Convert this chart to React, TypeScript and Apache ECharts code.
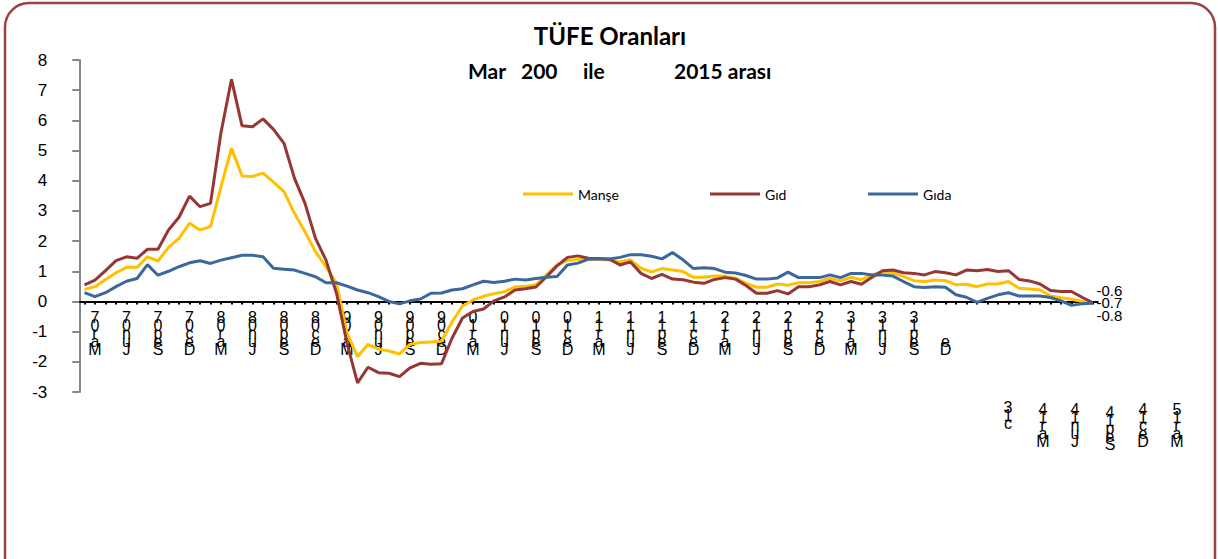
import React, { useEffect, useRef } from 'react';
import * as echarts from 'echarts';

// ---- categories (monthly, Feb 2007 .. Feb 2015) ----
const monthAbbr = ['Jan', 'Feb', 'Mar', 'Apr', 'May', 'Jun', 'Jul', 'Aug', 'Sep', 'Oct', 'Nov', 'Dec'];
const startYear = 2007;
const startMonthIndex = 1; // Feb
const pointCount = 97;
const categories: string[] = Array.from({ length: pointCount }, (_, i) => {
  const m = startMonthIndex + i;
  const y = startYear + Math.floor(m / 12);
  return monthAbbr[m % 12] + String(y % 100).padStart(2, '0');
});

// ---- series values ----
const manse = [
  0.40, 0.49, 0.73, 0.95, 1.13, 1.13, 1.48, 1.34, 1.79, 2.09,
  2.59, 2.37, 2.48, 3.80, 5.08, 4.16, 4.14, 4.25, 3.95, 3.64,
  2.92, 2.31, 1.65, 1.15, 0.60, -1.05, -1.83, -1.42, -1.58, -1.64,
  -1.74, -1.42, -1.36, -1.34, -1.32, -0.68, -0.15, 0.05, 0.17, 0.26,
  0.32, 0.48, 0.50, 0.55, 0.88, 1.21, 1.36, 1.39, 1.41, 1.40,
  1.37, 1.31, 1.38, 1.10, 0.98, 1.09, 1.04, 0.99, 0.80, 0.80,
  0.84, 0.84, 0.77, 0.60, 0.47, 0.47, 0.58, 0.54, 0.62, 0.62,
  0.66, 0.77, 0.68, 0.80, 0.72, 0.88, 0.99, 0.95, 0.82, 0.69,
  0.65, 0.71, 0.69, 0.55, 0.57, 0.49, 0.58, 0.58, 0.66, 0.44,
  0.41, 0.38, 0.18, 0.12, 0.07, 0.00, -0.04,
];

const gid = [
  0.55, 0.71, 1.02, 1.35, 1.48, 1.43, 1.73, 1.73, 2.37, 2.79,
  3.49, 3.14, 3.25, 5.60, 7.36, 5.82, 5.79, 6.05, 5.70, 5.24,
  4.08, 3.25, 2.09, 1.37, 0.27, -1.38, -2.70, -2.18, -2.36, -2.38,
  -2.49, -2.20, -2.05, -2.08, -2.06, -1.22, -0.55, -0.33, -0.25, 0.02,
  0.15, 0.38, 0.42, 0.48, 0.82, 1.18, 1.46, 1.51, 1.43, 1.42,
  1.40, 1.21, 1.31, 0.93, 0.76, 0.90, 0.74, 0.72, 0.64, 0.60,
  0.73, 0.79, 0.74, 0.53, 0.27, 0.27, 0.36, 0.25, 0.49, 0.49,
  0.55, 0.66, 0.55, 0.66, 0.57, 0.80, 1.02, 1.04, 0.95, 0.93,
  0.88, 0.99, 0.95, 0.88, 1.04, 1.02, 1.06, 0.99, 1.02, 0.73,
  0.68, 0.58, 0.36, 0.33, 0.33, 0.14, -0.04,
];

const gida = [
  0.29, 0.16, 0.29, 0.49, 0.67, 0.76, 1.22, 0.87, 1.00, 1.15,
  1.28, 1.35, 1.26, 1.37, 1.45, 1.53, 1.53, 1.48, 1.10, 1.07,
  1.04, 0.93, 0.82, 0.62, 0.62, 0.51, 0.38, 0.29, 0.16, 0.00,
  -0.08, 0.02, 0.08, 0.27, 0.28, 0.38, 0.42, 0.55, 0.67, 0.63,
  0.67, 0.74, 0.71, 0.76, 0.80, 0.83, 1.21, 1.27, 1.40, 1.41,
  1.41, 1.46, 1.55, 1.55, 1.50, 1.41, 1.62, 1.38, 1.09, 1.12,
  1.09, 0.97, 0.94, 0.86, 0.74, 0.74, 0.78, 0.97, 0.79, 0.79,
  0.79, 0.88, 0.79, 0.93, 0.93, 0.88, 0.88, 0.84, 0.66, 0.49,
  0.46, 0.49, 0.47, 0.22, 0.14, -0.03, 0.10, 0.22, 0.29, 0.18,
  0.18, 0.18, 0.13, 0.02, -0.13, -0.08, -0.06,
];

const seriesNames = ['Manşe', 'Gıd', 'Gıda'];
const seriesColors = ['#FFC000', '#953735', '#3A679C'];
const endLabels = ['-0.7', '-0.6', '-0.8'];

// ---- texts ----
const titleText = 'TÜFE Oranları';
const subtitleParts = ['Mar', '200', 'ile', '2015 arası'];
const strayLabels = ['3\n1\nc', '4\n1\nr\na\nM', '4\n1\nn\nu\nJ', '4\n1\np\ne\nS', '4\n1\nc\ne\nD', '5\n1\nr\na\nM'];

const labelFont = 'Liberation Sans, Arial, sans-serif';
const textFont = 'Lato, "Open Sans", sans-serif';

export default function App() {
  const ref = useRef<HTMLDivElement>(null);

  useEffect(() => {
    if (!ref.current) return;
    const chart = echarts.init(ref.current, null, { renderer: 'svg' });

    const lastLabelIdx = 82;
    const stackedLabel = (value: string, index: number) => {
      const chars = value.split('').reverse();
      if (index === lastLabelIdx) {
        return chars.map((c, k) => (k < 3 ? ' ' : c)).join('\n');
      }
      return chars.join('\n');
    };

    const datasets = [manse, gid, gida];
    const endOffsets = [[0, 0], [0, -12], [0, 12]];

    const subtitleX = [468, 521, 583, 674];
    const strayX = [1008, 1043, 1075, 1110, 1143, 1177];
    const strayY = [403, 405, 405, 408, 405, 405];

    const gridTop = 60;
    const gridHeight = 332;
    const yMin = -3;
    const yMax = 8;
    const zeroOffset = -(gridHeight * (0 - yMin)) / (yMax - yMin);

    const option: any = {
      animation: false,
      backgroundColor: '#ffffff',
      grid: { left: 79.25, top: gridTop, width: 1018.5, height: gridHeight, containLabel: false },
      legend: seriesNames.map((n, k) => ({
        data: [n],
        left: [523, 710, 868][k],
        top: 187,
        padding: 0,
        icon: 'rect',
        itemWidth: 50,
        itemHeight: 3,
        itemGap: 5,
        selectedMode: false,
        textStyle: { fontFamily: textFont, fontSize: 14, color: '#000' },
      })),
      xAxis: {
        type: 'category',
        data: categories,
        boundaryGap: true,
        offset: zeroOffset,
        axisLine: { onZero: false, lineStyle: { color: '#000', width: 2 } },
        axisTick: { show: true, alignWithLabel: true, interval: 0, length: 3, lineStyle: { color: '#000', width: 2 } },
        axisLabel: {
          interval: (index: number) => index % 3 === 1 && index <= lastLabelIdx,
          formatter: stackedLabel,
          fontFamily: labelFont,
          fontSize: 16,
          lineHeight: 8,
          color: '#000',
          margin: 12,
          showMinLabel: true,
          showMaxLabel: true,
        },
        splitLine: { show: false },
      },
      yAxis: {
        type: 'value',
        min: yMin,
        max: yMax,
        interval: 1,
        axisLine: { show: true, lineStyle: { color: '#868686', width: 2 } },
        axisTick: { show: true, length: 7, lineStyle: { color: '#868686', width: 2 } },
        splitLine: { show: false },
        axisLabel: { fontFamily: labelFont, fontSize: 17, color: '#000', margin: 32 },
      },
      series: datasets.map((d, k) => ({
        name: seriesNames[k],
        type: 'line',
        data: d,
        symbol: 'none',
        color: seriesColors[k],
        lineStyle: { width: 3, color: seriesColors[k] },
        itemStyle: { color: seriesColors[k] },
        endLabel: {
          show: true,
          formatter: () => endLabels[k],
          distance: 4,
          offset: endOffsets[k],
          fontFamily: labelFont,
          fontSize: 15,
          color: '#000',
        },
        z: 2 + k,
      })),
      graphic: [
        {
          type: 'rect',
          z: -1,
          shape: { x: 5, y: 3, width: 1210, height: 620, r: 24 },
          style: { fill: 'none', stroke: '#9E4040', lineWidth: 2.5 },
        },
        {
          type: 'text',
          x: 610,
          y: 35,
          style: { text: titleText, font: 'bold 24px Lato, sans-serif', fill: '#000', textAlign: 'center', textVerticalAlign: 'middle' },
        },
        ...subtitleParts.map((t, k) => ({
          type: 'text',
          x: subtitleX[k],
          y: 70,
          style: { text: t, font: 'bold 21px Lato, sans-serif', fill: '#000', textAlign: 'left', textVerticalAlign: 'middle' },
        })),
        ...strayLabels.map((t, k) => ({
          type: 'text',
          x: strayX[k],
          y: strayY[k],
          style: { text: t, font: '16px "Liberation Sans", Arial, sans-serif', lineHeight: 8, fill: '#000', textAlign: 'center', textVerticalAlign: 'top' },
        })),
      ],
    };

    chart.setOption(option);
    return () => chart.dispose();
  }, []);

  return <div ref={ref} style={{ position: 'absolute', left: 0, top: 0, width: 1218, height: 559 }} />;
}
